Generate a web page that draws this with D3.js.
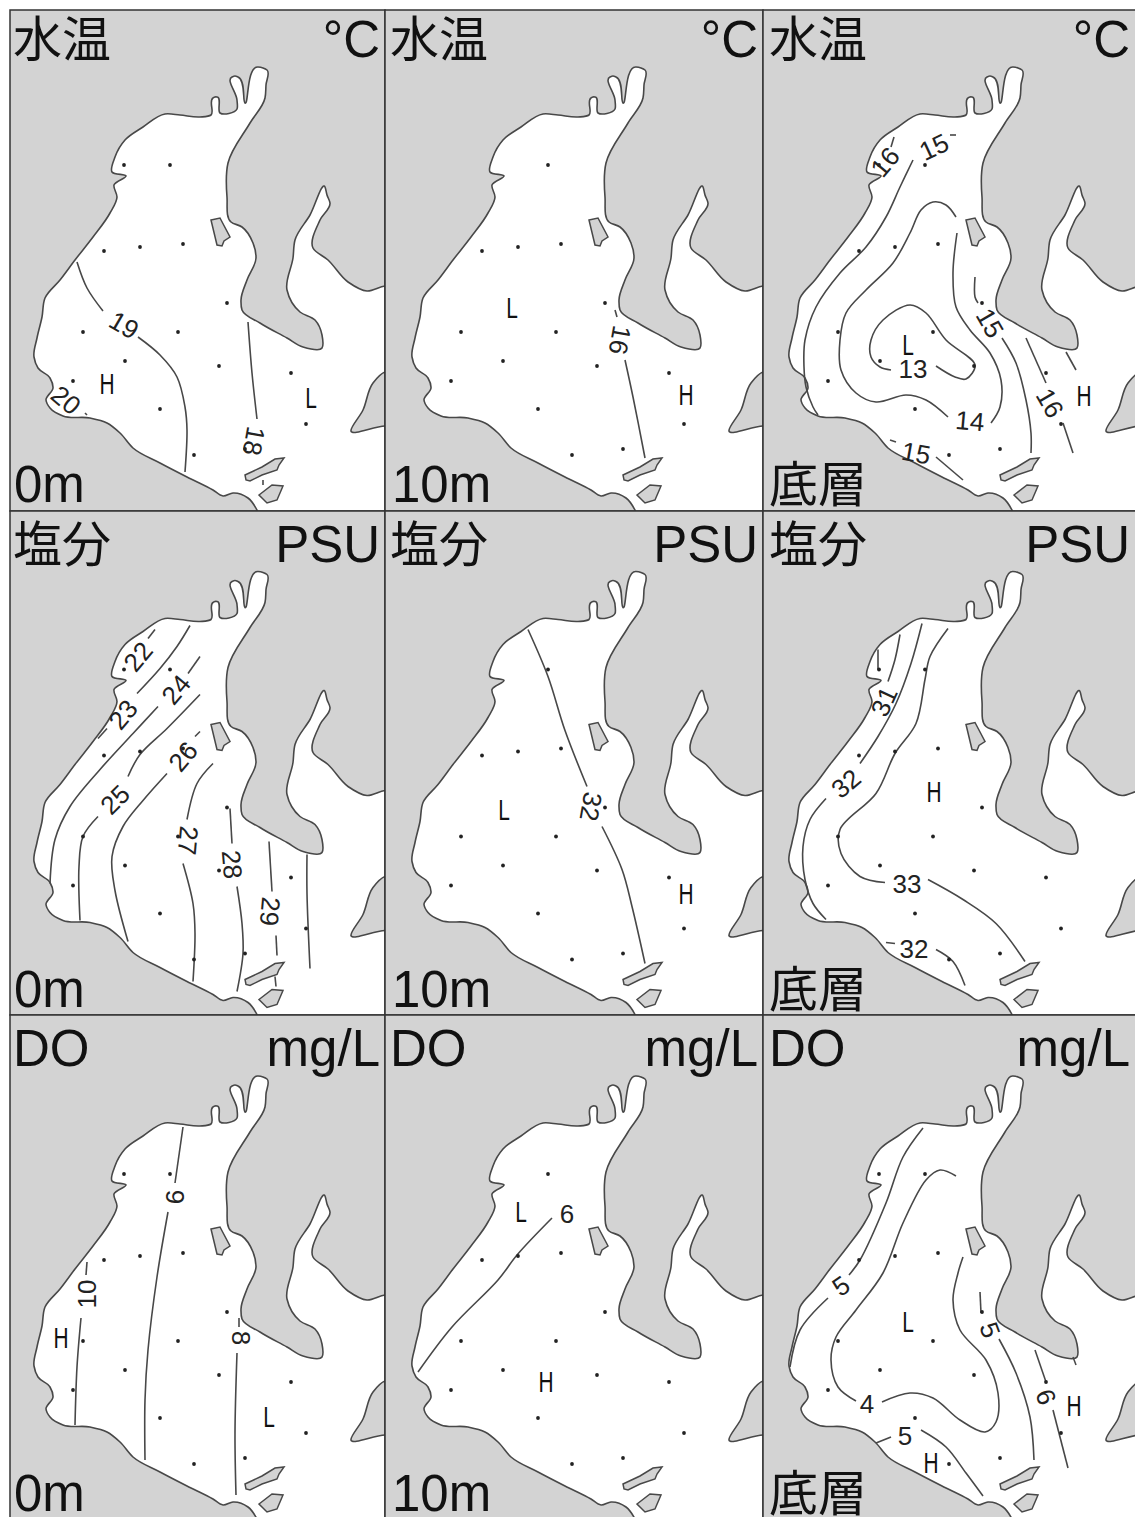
<!DOCTYPE html>
<meta charset="utf-8">
<style>
  html, body { margin: 0; padding: 0; background: #fff; }
  svg { display: block; }
</style>
<body>
<script src="https://d3js.org/d3.v7.min.js"></script>
<script>
// coastline, in map units (sea polygon, clipped by each panel)
var coast = [[262,525],[257,510],[248,498],[233,493],[223,496],[213,490],[187,477],[160,463],[133,448],[120,433],[107,423],[90,418],[63,416],[50,408],[46,400],[53,388],[50,378],[38,368],[34,357],[37,338],[42,317],[45,298],[60,280],[75,260],[93,237],[110,213],[117,197],[114,185],[126,176],[112,172],[115,157],[125,140],[143,127],[165,114],[180,115],[200,117],[211,115],[213,98],[215,97],[217,97],[220,113],[237,109],[237,100],[232,77],[235,76],[238,77],[245,103],[258,67],[263,68],[267,70],[266,85],[265,98],[250,123],[228,163],[227,197],[231,222],[242,227],[253,243],[256,258],[247,280],[241,300],[242,310],[260,323],[287,338],[303,347],[322,348],[322,335],[315,320],[300,312],[287,290],[293,258],[295,240],[310,215],[325,187],[327,195],[330,203],[320,220],[313,248],[328,260],[348,282],[367,291],[385,286],[400,286],[400,372],[385,372],[373,383],[363,410],[351,431],[385,426],[400,426],[400,525]];
var islandA = [[211,220],[220,218],[230,237],[224,241],[222,246],[217,245]];
var islandB = [[245,475],[262,467],[275,459],[284,458],[279,465],[277,470],[262,475],[250,481],[246,480]];
var islandC = [[259,495],[272,485],[283,486],[277,500],[267,503]];
var stations = [[124,165],[170,165],[104,251],[140,247],[183,244],[227,303],[83,332],[178,332],[125,361],[219,366],[73,381],[291,373],[160,409],[306,424],[194,455],[245,449]];

var colEdges = [10, 385, 763, 1137];
var rowEdges = [10, 511, 1015, 1519];
var colShift = [0, 378, 755];
var rowShift = [0, 504.5, 1009];
var titleInset = [3, 5, 6];
var depthInset = [4, 7, 6];
var titles = ['水温', '塩分', 'DO'];
var units = ['°C', 'PSU', 'mg/L'];
var depths = ['0m', '10m', '底層'];

// contours per panel; labels are [text, x, y, rotation], marks are [text, x, y]
var tempSurfaceLines = [
  [[77,262],[87,288],[103,311]],
  [[138,337],[160,355],[177,377],[185,407],[187,430],[185,472]],
  [[248,322],[252,373],[257,419]],
  [[263,480],[263,485]],
  [[85,413],[87,415]]
];
var tempSurfaceLabels = [['19',124,325,30],['18',254,441,100],['20',66,400,40]];
var tempSurfaceMarks = [['H',107,384],['L',311,398]];

var temp10Lines = [
  [[237,310],[239,317]],
  [[247,360],[255,397],[267,458]]
];
var temp10Labels = [['16',242,340,100]];
var temp10Marks = [['L',134,308],['H',308,395]];

var tempBottomLines = [
  [[139,137],[136,147]],
  [[201,135],[195,135]],
  [[158,160],[145,187],[131,217],[111,247],[85,273],[61,307],[50,340],[49,367],[51,387],[58,407],[63,415]],
  [[201,217],[191,205],[178,202],[166,210],[155,233],[138,263],[111,290],[91,313],[85,340],[86,370],[101,393],[121,402],[151,395],[171,400],[193,417]],
  [[236,423],[245,407],[246,380],[235,353],[215,330],[201,307],[198,273],[202,233]],
  [[220,277],[220,297],[223,303]],
  [[247,338],[261,363],[271,400],[276,433],[276,453]],
  [[271,338],[291,383]],
  [[308,423],[318,453]],
  [[311,352],[321,370]],
  [[136,370],[125,367],[116,357],[116,340],[128,320],[155,305],[171,313],[191,340],[220,365],[211,379],[200,377],[181,366]],
  [[135,440],[141,442]],
  [[181,457],[208,480]]
];
var tempBottomLabels = [['16',130,162,-50],['15',179,147,-25],['14',215,421,5],['15',235,323,60],['16',295,403,60],['13',158,369,0],['15',161,453,10]];
var tempBottomMarks = [['L',153,345],['H',329,396]];

var salSurfaceLines = [
  [[155,125],[148,134]],
  [[190,121],[177,142],[160,164],[137,189]],
  [[107,224],[98,234]],
  [[200,152],[188,169]],
  [[158,202],[133,229],[100,265],[70,302],[55,335],[50,379]],
  [[200,190],[167,224],[140,250],[128,272]],
  [[98,312],[83,332],[79,362],[80,416]],
  [[200,227],[195,232]],
  [[167,269],[143,296],[123,322],[112,352],[115,386],[128,437]],
  [[213,259],[197,279],[187,315]],
  [[183,359],[193,399],[195,429],[193,477]],
  [[230,304],[232,339]],
  [[237,382],[242,419],[243,449],[237,487]],
  [[269,337],[272,387]],
  [[276,431],[277,451]],
  [[275,472],[276,482]],
  [[307,350],[307,389],[310,464]]
];
var salSurfaceLabels = [['22',138,152,-50],['23',123,210,-50],['24',176,185,-50],['25',115,295,-45],['26',183,252,-50],['27',188,336,95],['28',232,360,85],['29',270,407,95]];
var salSurfaceMarks = [];

var sal10Lines = [
  [[150,125],[170,172],[187,226],[209,282]],
  [[224,322],[244,365],[254,402],[267,459]]
];
var sal10Labels = [['32',213,302,100]];
var sal10Marks = [['L',126,305],['H',308,389]];

var salBottomLines = [
  [[123,145],[123,165]],
  [[145,130],[140,155],[133,177]],
  [[167,119],[156,159],[141,199],[123,232],[105,259]],
  [[71,294],[55,315],[48,342],[50,375],[58,399],[71,415]],
  [[193,124],[175,152],[170,175],[161,219],[140,249],[121,289],[85,325],[86,349],[105,372],[130,378]],
  [[173,375],[208,395],[241,419],[270,457]],
  [[131,438],[140,439]],
  [[181,445],[198,457],[210,481]]
];
var salBottomLabels = [['31',129,197,-65],['32',91,279,-40],['33',152,379,0],['32',159,444,0]];
var salBottomMarks = [['H',179,287]];

var doSurfaceLines = [
  [[183,118],[175,174]],
  [[168,203],[157,268],[148,341],[145,391],[145,451]],
  [[87,253],[86,266]],
  [[81,309],[77,358],[75,416]],
  [[239,309],[239,318]],
  [[237,344],[235,424],[236,486]]
];
var doSurfaceLabels = [['9',175,188,90],['10',87,285,-90],['8',241,329,90]];
var doSurfaceMarks = [['H',61,329],['L',269,408]];

var do10Lines = [
  [[174,209],[139,246],[120,271],[74,318],[40,363]]
];
var do10Labels = [['6',189,205,0]];
var do10Marks = [['L',143,203],['H',168,373]];

var doBottomLines = [
  [[168,119],[148,148],[131,194],[105,251],[94,266]],
  [[73,289],[45,321],[35,358]],
  [[201,167],[185,161],[171,171],[148,214],[128,264],[101,301],[81,328],[76,351],[83,378],[101,392]],
  [[127,393],[155,384],[178,389],[205,411],[230,423],[241,413],[243,384],[231,351],[205,321],[198,291],[203,264],[208,248]],
  [[225,283],[226,304]],
  [[244,330],[261,364],[275,408],[279,451]],
  [[280,341],[291,373]],
  [[298,401],[313,459]],
  [[318,348],[321,356]],
  [[121,434],[136,428]],
  [[166,421],[191,438],[211,464],[228,487]]
];
var doBottomLabels = [['5',86,277,-35],['4',112,395,0],['5',235,321,70],['6',291,388,70],['5',150,427,0]];
var doBottomMarks = [['L',153,313],['H',319,397],['H',176,454]];

var grid = [
  [[tempSurfaceLines, tempSurfaceLabels, tempSurfaceMarks], [temp10Lines, temp10Labels, temp10Marks], [tempBottomLines, tempBottomLabels, tempBottomMarks]],
  [[salSurfaceLines, salSurfaceLabels, salSurfaceMarks], [sal10Lines, sal10Labels, sal10Marks], [salBottomLines, salBottomLabels, salBottomMarks]],
  [[doSurfaceLines, doSurfaceLabels, doSurfaceMarks], [do10Lines, do10Labels, do10Marks], [doBottomLines, doBottomLabels, doBottomMarks]]
];

var svg = d3.select('body').append('svg').attr('width', 1135).attr('height', 1517);
var land = '#d3d3d3', ink = '#484848';
var cjk = '"Noto Sans CJK JP"', latin = '"Liberation Sans"';

grid.forEach(function(row, r) {
  row.forEach(function(cell, c) {
    var left = colEdges[c], right = colEdges[c + 1], top = rowEdges[r], bottom = rowEdges[r + 1];
    var x = d3.scaleLinear().domain([0, 100]).range([colShift[c], colShift[c] + 100]);
    var y = d3.scaleLinear().domain([0, 100]).range([rowShift[r], rowShift[r] + 100]);
    var id = 'clip' + r + c;

    svg.append('clipPath').attr('id', id).append('rect')
      .attr('x', left).attr('y', top).attr('width', right - left).attr('height', bottom - top);

    var g = svg.append('g').attr('clip-path', 'url(#' + id + ')');
    g.append('rect').attr('x', left).attr('y', top).attr('width', right - left).attr('height', bottom - top).attr('fill', land);

    var shape = d3.line().x(function(d) { return x(d[0]); }).y(function(d) { return y(d[1]); });
    var shore = d3.line().x(function(d) { return x(d[0]); }).y(function(d) { return y(d[1]); }).curve(d3.curveCatmullRom.alpha(1));
    var smooth = d3.line().x(function(d) { return x(d[0]); }).y(function(d) { return y(d[1]); }).curve(d3.curveCatmullRom.alpha(0.5));

    g.append('path').attr('d', shore(coast) + 'Z').attr('fill', '#fff').attr('stroke', ink).attr('stroke-width', 1.6);
    [islandA, islandB, islandC].forEach(function(p) {
      g.append('path').attr('d', shape(p) + 'Z').attr('fill', land).attr('stroke', ink).attr('stroke-width', 1.5);
    });

    g.selectAll('path.contour').data(cell[0]).enter().append('path')
      .attr('class', 'contour')
      .attr('d', smooth)
      .attr('fill', 'none').attr('stroke', ink).attr('stroke-width', 1.6);

    // the 10m column has no station at the far north-west
    var shown = c === 1 ? stations.slice(1) : stations;
    g.selectAll('circle').data(shown).enter().append('circle')
      .attr('cx', function(d) { return x(d[0]); })
      .attr('cy', function(d) { return y(d[1]); })
      .attr('r', 1.9).attr('fill', '#222');

    g.selectAll('text.lab').data(cell[1]).enter().append('text')
      .attr('class', 'lab')
      .attr('transform', function(d) { return 'translate(' + x(d[1]) + ',' + y(d[2]) + ') rotate(' + d[3] + ')'; })
      .attr('dy', '.35em').attr('text-anchor', 'middle')
      .style('font', '26px ' + latin).attr('fill', '#222')
      .text(function(d) { return d[0]; });

    // H and L marks are a narrow face in the original
    g.selectAll('text.mark').data(cell[2]).enter().append('text')
      .attr('class', 'mark')
      .attr('transform', function(d) { return 'translate(' + x(d[1]) + ',' + y(d[2]) + ') scale(.72,1)'; })
      .attr('dy', '.36em').attr('text-anchor', 'middle')
      .style('font', '29px ' + latin).attr('fill', '#111')
      .text(function(d) { return d[0]; });

    g.append('text').attr('x', left + titleInset[c]).attr('y', rowShift[r] + 57)
      .style('font', (r === 2 ? '51px ' + latin : '49px ' + cjk)).attr('fill', '#111').text(titles[r]);
    g.append('text').attr('x', (c === 2 ? 1130 : right - 5)).attr('y', rowShift[r] + 57).attr('text-anchor', 'end')
      .style('font', '51px ' + latin).attr('fill', '#111').text(units[r]);
    g.append('text').attr('x', left + depthInset[c]).attr('y', rowShift[r] + 502)
      .style('font', (c === 2 ? '49px ' + cjk : '51px ' + latin)).attr('fill', '#111').text(depths[c]);

    svg.append('rect').attr('x', left).attr('y', top).attr('width', right - left).attr('height', bottom - top)
      .attr('fill', 'none').attr('stroke', '#333').attr('stroke-width', 1.5);
  });
});
</script>
</body>
